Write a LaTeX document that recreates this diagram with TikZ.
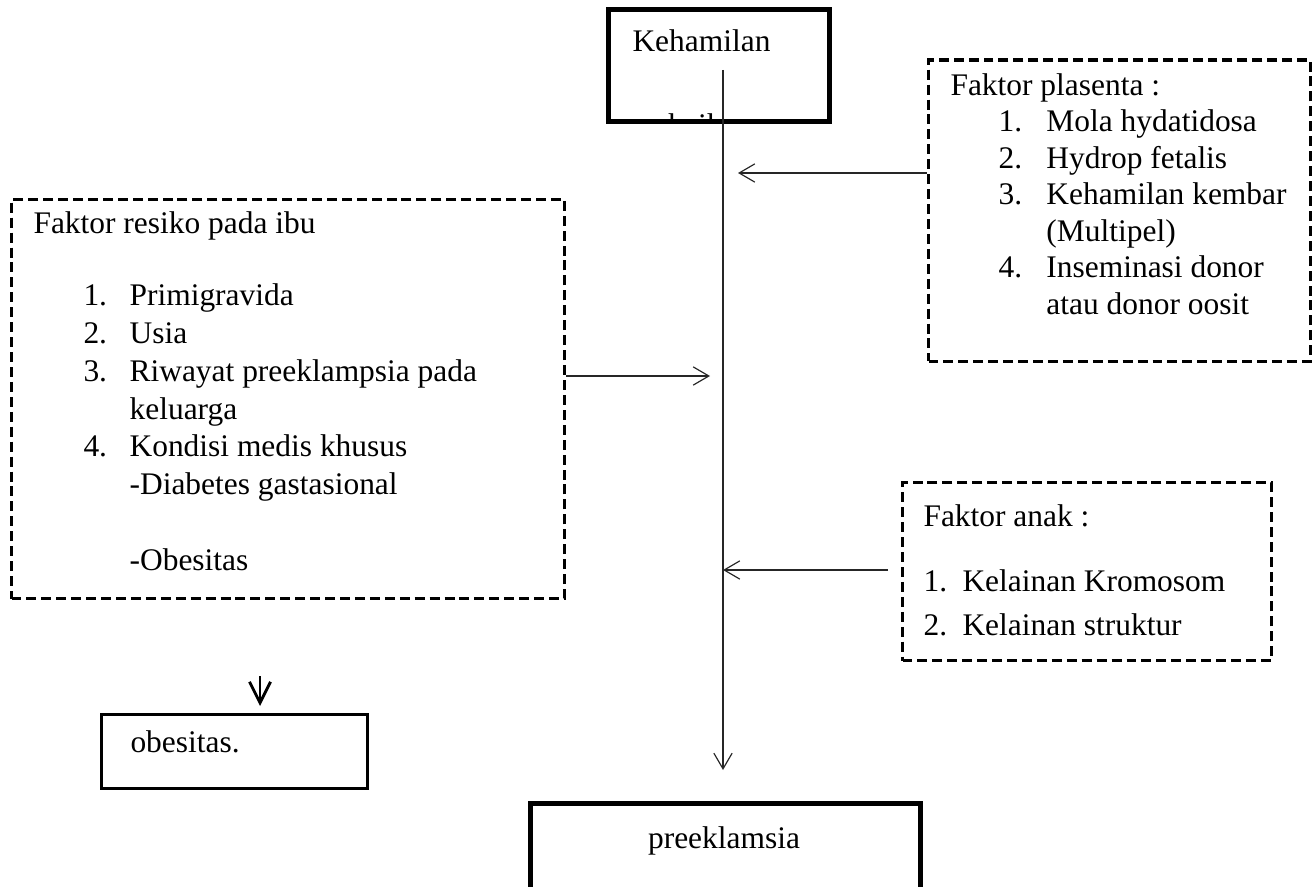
\documentclass[tikz,border=0pt]{standalone}
\usepackage{fontspec}
\setmainfont{Liberation Serif}
\usetikzlibrary{arrows.meta, positioning, fit}

\begin{document}
\begin{tikzpicture}[
    x=0.3817pt, y=-0.3817pt,
    every node/.style={font=\fontsize{12pt}{14.4pt}\selectfont, inner sep=0pt},
    txt/.style={anchor=base west},
    mainbox/.style={rectangle, draw, line width=1.9pt, inner sep=0pt},
    smallbox/.style={rectangle, draw, line width=1.1pt, inner sep=0pt},
    factorbox/.style={rectangle, draw, line width=1.15pt, dash pattern=on 3.8pt off 1.9pt, inner sep=0pt},
    flow/.style={-{Straight Barb[length=6pt, width=7pt]}, line width=0.45pt, black!85},
    boldflow/.style={-{Straight Barb[length=8pt, width=8pt]}, line width=1.1pt}
]
\useasboundingbox (0,0) rectangle (1314,887);
\clip (0,0) rectangle (1314,887);

% Main boxes
\node[mainbox, fit={(608.5,9.5) (829.5,121.5)}] (hamil) {};
\node[txt] (hamiltxt) at (632,52) {Kehamilan};
\begin{scope}
  \clip (611,12) rectangle (827,119);
  \node[txt] (baik) at (668,136) {baik};
\end{scope}

\node[mainbox, fit={(530.5,803.5) (920.5,905)}] (preek) {};
\node (preektxt) at (724,841) {preeklamsia};

% Faktor resiko pada ibu
\node[factorbox, fit={(11.5,199.5) (564.5,598.5)}] (ibu) {};
\node[txt] (ibuhead) at (33,234) {Faktor resiko pada ibu};
\node[txt] (ibulist) at (83,306) {\begin{tabular}[t]{@{}p{17.6pt}@{}l@{}}
1. & Primigravida\\
2. & Usia\\
3. & Riwayat preeklampsia pada\\
   & keluarga\\
4. & Kondisi medis khusus\\
   & -Diabetes gastasional\\
   & \\
   & -Obesitas
\end{tabular}};

% Faktor plasenta
\node[factorbox, fit={(928.5,60) (1310.5,361.5)}] (plas) {};
\node[txt] (plashead) at (950,96) {Faktor plasenta :};
\node[txt] (plaslist) at (998,132) {\fontsize{12pt}{13.9pt}\selectfont
\begin{tabular}[t]{@{}p{18.3pt}@{}l@{}}
1. & Mola hydatidosa\\
2. & Hydrop fetalis\\
3. & Kehamilan kembar\\
   & (Multipel)\\
4. & Inseminasi donor\\
   & atau donor oosit
\end{tabular}};

% Faktor anak
\node[factorbox, fit={(902.5,482.5) (1271.5,660.5)}] (anak) {};
\node[txt] (anakhead) at (923,527) {Faktor anak :};
\node[txt] (anak1) at (923,592) {1.};
\node[txt] (anak1txt) at (962,592) {Kelainan Kromosom};
\node[txt] (anak2) at (923,636) {2.};
\node[txt] (anak2txt) at (962,636) {Kelainan struktur};

% obesitas
\node[smallbox, fit={(101.5,714.5) (367.5,788.5)}] (obes) {};
\node[txt] (obestxt) at (130,752) {obesitas.};

% Arrows
\coordinate (trunktop) at (723,70);
\coordinate (trunkend) at (723,770);
\coordinate (plastip) at (738,173);
\coordinate (ibutip) at (710,376);
\coordinate (anakout) at (888,570);
\coordinate (anaktip) at (723,570);
\coordinate (obesout) at (260,676);
\coordinate (obestip) at (260,706);

\draw[flow] (trunktop) -- (trunkend);
\draw[flow] (plas.west |- plastip) -- (plastip);
\draw[flow] (ibu.east |- ibutip) -- (ibutip);
\draw[flow] (anakout) -- (anaktip);
\draw[boldflow] (obesout) -- (obestip);

\end{tikzpicture}
\end{document}
